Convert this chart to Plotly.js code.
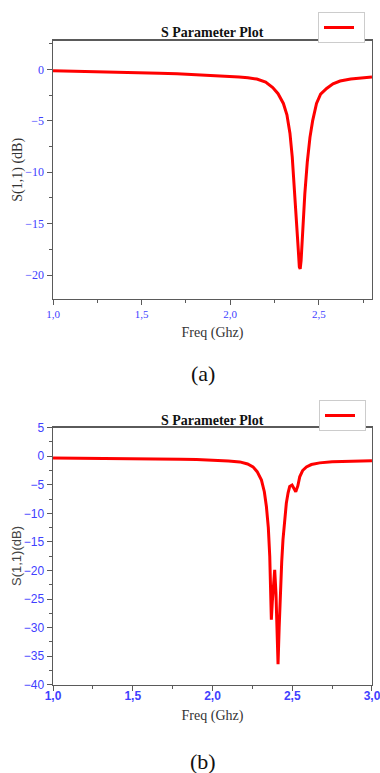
<!DOCTYPE html>
<html>
<head>
<meta charset="utf-8">
<script src="https://cdn.plot.ly/plotly-3.0.1.min.js"></script>
<style>html,body{margin:0;padding:0;background:#fff;}#chart{width:380px;height:773px;}</style>
</head>
<body>
<div id="chart"></div>
<script>
// Plot (a) data
var freqA = [1.0,1.1,1.2,1.3,1.4,1.5,1.6,1.7,1.8,1.9,2.0,2.05,2.1,2.15,2.2,2.24,2.27,2.3,2.32,2.337,2.35,2.365,2.375,2.384,2.39,2.395,2.4,2.405,2.413,2.421,2.435,2.45,2.465,2.487,2.51,2.544,2.58,2.62,2.68,2.73,2.8];
var s11A  = [-0.12,-0.15,-0.18,-0.22,-0.26,-0.31,-0.36,-0.42,-0.49,-0.57,-0.66,-0.72,-0.8,-0.93,-1.22,-1.75,-2.35,-3.3,-4.4,-6.2,-8.5,-12.1,-15.0,-17.5,-19.2,-19.4,-18.6,-16.8,-14.0,-12.1,-9.0,-6.6,-5.0,-3.3,-2.4,-1.85,-1.4,-1.12,-0.92,-0.82,-0.74];
// Plot (b) data
var freqB = [1.0,1.2,1.4,1.6,1.8,1.9,2.0,2.1,2.171,2.22,2.254,2.28,2.307,2.325,2.338,2.35,2.359,2.365,2.369,2.375,2.383,2.39,2.398,2.405,2.411,2.418,2.426,2.434,2.442,2.452,2.463,2.474,2.484,2.499,2.512,2.522,2.535,2.547,2.565,2.589,2.62,2.672,2.75,2.85,3.0];
var s11B  = [-0.3,-0.33,-0.38,-0.44,-0.52,-0.58,-0.66,-0.82,-0.99,-1.35,-1.86,-2.7,-4.18,-6.2,-8.8,-12.5,-17.5,-23.5,-28.6,-25.5,-21.5,-19.9,-24,-31,-36.4,-30,-23.3,-18.5,-14.6,-11,-8.2,-6.4,-5.3,-5.05,-5.7,-6.2,-5.2,-3.6,-2.5,-1.86,-1.45,-1.16,-0.95,-0.85,-0.8];

var plotTitle = "S Parameter Plot";
var xTitle = "Freq (Ghz)";
var yTitleA = "S(1,1) (dB)";
var yTitleB = "S(1,1)(dB)";
var captions = ["(a)", "(b)"];

var serif = "Liberation Serif, Times New Roman, serif";
var sans = "Liberation Sans, Arial, sans-serif";
var tickBlue = "#4040ff";
var axisGray = "#5a5a5a";

var traces = [
  {x: freqA, y: s11A, type: 'scatter', mode: 'lines', name: '', xaxis: 'x', yaxis: 'y',
   line: {color: '#ff0000', width: 3}, legend: 'legend'},
  {x: freqB, y: s11B, type: 'scatter', mode: 'lines', name: '', xaxis: 'x2', yaxis: 'y2',
   line: {color: '#ff0000', width: 3}, legend: 'legend2'}
];

function xAxis(range, anchor, font, title, labelShift) {
  return {
    domain: [0.1395, 0.9789], anchor: anchor, range: range, dtick: 0.5, tick0: 1,
    tickformat: '.1f', ticks: 'outside', ticklen: 5, tickcolor: axisGray, tickwidth: 1,
    ticklabelstandoff: labelShift, ticklabeloverflow: 'allow',
    showline: true, linecolor: axisGray, linewidth: 1.5, mirror: true,
    showgrid: false, zeroline: false, fixedrange: true,
    tickfont: font,
    minor: {dtick: 0.25, tick0: 1, ticks: 'outside', ticklen: 3, tickcolor: axisGray, showgrid: false},
    title: {text: title, font: {family: serif, size: 14, color: '#333'}, standoff: 8}
  };
}
function yAxis(domain, range, anchor, dtick, font) {
  return {
    domain: domain, anchor: anchor, range: range, dtick: dtick, tick0: 0,
    ticks: 'outside', ticklen: 5, tickcolor: axisGray, tickwidth: 1,
    showline: true, linecolor: axisGray, linewidth: 1.5, mirror: true,
    showgrid: false, zeroline: false, fixedrange: true,
    tickfont: font,
    minor: {dtick: dtick / 2, tick0: 0, ticks: 'outside', ticklen: 3, tickcolor: axisGray, showgrid: false}
  };
}

var layout = {
  width: 380, height: 773,
  margin: {l: 0, r: 0, t: 0, b: 0},
  paper_bgcolor: '#fff', plot_bgcolor: '#fff',
  separators: ',.',
  showlegend: true,
  xaxis: xAxis([1.0, 2.8], 'y', {family: serif, size: 11, color: tickBlue}, xTitle, 0),
  yaxis: yAxis([0.6136, 0.9473], [-22.3, 2.8], 'x', 5, {family: serif, size: 12, color: tickBlue}),
  xaxis2: xAxis([1.0, 3.0], 'y2', {family: sans, size: 12, color: tickBlue, weight: 'bold'}, xTitle, -6),
  yaxis2: yAxis([0.1142, 0.4467], [-40, 5], 'x2', 5, {family: sans, size: 12, color: tickBlue}),
  legend: {x: 318/380, y: 1 - 12/773, xanchor: 'left', yanchor: 'top', bgcolor: '#fff',
           bordercolor: '#cccccc', borderwidth: 1, font: {size: 6}, itemwidth: 30, tracegroupgap: 0},
  legend2: {x: 319/380, y: 1 - 400/773, xanchor: 'left', yanchor: 'top', bgcolor: '#fff',
           bordercolor: '#cccccc', borderwidth: 1, font: {size: 6}, itemwidth: 30, tracegroupgap: 0},
  annotations: [
    {text: '<b>' + plotTitle + '</b>', xref: 'paper', yref: 'paper', x: 0.559, y: 1 - 32.7/773,
     xanchor: 'center', yanchor: 'middle', showarrow: false, font: {family: serif, size: 14, color: '#111'}},
    {text: '<b>' + plotTitle + '</b>', xref: 'paper', yref: 'paper', x: 0.559, y: 1 - 420.7/773,
     xanchor: 'center', yanchor: 'middle', showarrow: false, font: {family: serif, size: 14, color: '#111'}},
    {text: yTitleA, xref: 'paper', yref: 'paper', x: 18/380, y: 1 - 169.7/773, textangle: -90,
     xanchor: 'center', yanchor: 'middle', showarrow: false, font: {family: serif, size: 14, color: '#333'}},
    {text: yTitleB, xref: 'paper', yref: 'paper', x: 16/380, y: 1 - 556/773, textangle: -90,
     xanchor: 'center', yanchor: 'middle', showarrow: false, font: {family: sans, size: 13, color: '#444'}},
    {text: captions[0], xref: 'paper', yref: 'paper', x: 203/380, y: 1 - 373/773,
     xanchor: 'center', yanchor: 'middle', showarrow: false, font: {family: serif, size: 22, color: '#111'}},
    {text: captions[1], xref: 'paper', yref: 'paper', x: 203/380, y: 1 - 761/773,
     xanchor: 'center', yanchor: 'middle', showarrow: false, font: {family: serif, size: 22, color: '#111'}}
  ]
};

Plotly.newPlot('chart', traces, layout, {displayModeBar: false, staticPlot: true});
</script>
</body>
</html>
